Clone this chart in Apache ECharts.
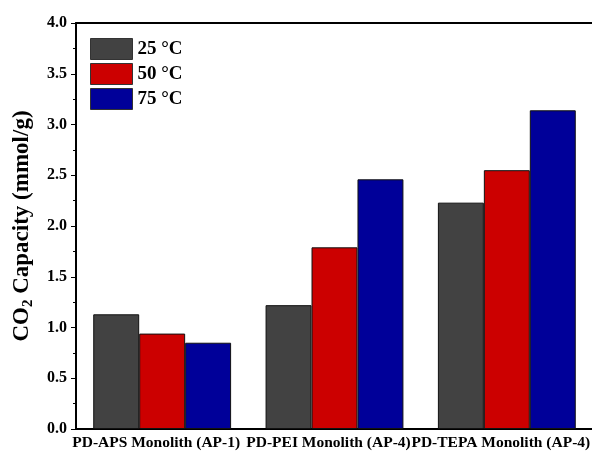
<!DOCTYPE html>
<html><head><meta charset="utf-8">
<script src="https://cdn.jsdelivr.net/npm/echarts@6/dist/echarts.min.js"></script>
<style>html,body{margin:0;padding:0;background:#fff}#c{width:592px;height:455px}</style>
</head><body><div id="c"></div>
<script>
const categories = ['PD-APS Monolith (AP-1)', 'PD-PEI Monolith (AP-4)', 'PD-TEPA Monolith (AP-4)'];
const seriesNames = ['25 °C', '50 °C', '75 °C'];
const values25 = [1.13, 1.22, 2.23];
const values50 = [0.94, 1.79, 2.55];
const values75 = [0.85, 2.46, 3.14];
const colors = ['#424242', '#cc0000', '#000099'];
const F = 'Liberation Serif';

const chart = echarts.init(document.getElementById('c'));
const mk = (name, data, color) => ({
  name, type: 'bar', data, xAxisIndex: 0, yAxisIndex: 0,
  barGap: '0%', barCategoryGap: '20%',
  itemStyle: { color, borderColor: '#111', borderWidth: 1 }
});
chart.setOption({
  animation: false,
  grid: { left: 76, top: 23, width: 517, height: 406, containLabel: false, outerBoundsMode: 'none' },
  legend: {
    orient: 'vertical', left: 90, top: 38, padding: 0, itemWidth: 42, itemHeight: 21, itemGap: 3,
    icon: 'rect',
    itemStyle: { borderColor: '#333', borderWidth: 1 },
    textStyle: { fontFamily: F, fontWeight: 'bold', fontSize: 19, color: '#000', padding: [0, 0, 0, 0] },
    data: seriesNames
  },
  xAxis: [
    { type: 'category', data: categories, position: 'bottom',
      axisLine: { lineStyle: { color: '#000', width: 2 } },
      axisTick: { alignWithLabel: true, length: 6, lineStyle: { color: '#000', width: 1 } },
      axisLabel: { fontFamily: F, fontWeight: 'bold', fontSize: 15.5, color: '#000', margin: 6, interval: 0, hideOverlap: false, padding: [0, 12, 0, 0] } },
    { type: 'category', data: categories, position: 'bottom',
      axisLine: { show: false },
      axisTick: { alignWithLabel: false, length: 4, lineStyle: { color: '#000', width: 1 } },
      axisLabel: { show: false } },
    { type: 'category', data: categories, position: 'top',
      axisLine: { lineStyle: { color: '#000', width: 2 } },
      axisTick: { show: false }, axisLabel: { show: false } }
  ],
  yAxis: {
    type: 'value', min: 0, max: 4, interval: 0.5,
    axisLine: { show: true, lineStyle: { color: '#000', width: 2 } },
    axisTick: { show: true, length: 5, lineStyle: { color: '#000', width: 1 } },
    minorTick: { show: true, splitNumber: 2, length: 3, lineStyle: { color: '#000', width: 1 } },
    splitLine: { show: false },
    axisLabel: { fontFamily: F, fontWeight: 'bold', fontSize: 16, color: '#000', margin: 9,
      formatter: v => v.toFixed(1) },
    name: '{m|CO}{s|2}{m| Capacity (mmol/g)}',
    nameLocation: 'middle', nameGap: 38, nameRotate: 90,
    nameTextStyle: {
      rich: {
        m: { fontFamily: F, fontWeight: 'bold', fontSize: 23, color: '#000', lineHeight: 28, verticalAlign: 'middle' },
        s: { fontFamily: F, fontWeight: 'bold', fontSize: 15, color: '#000', lineHeight: 28, verticalAlign: 'bottom', padding: [12, 0, 0, 0] }
      }
    }
  },
  series: [mk(seriesNames[0], values25, colors[0]), mk(seriesNames[1], values50, colors[1]), mk(seriesNames[2], values75, colors[2])]
});
</script></body></html>
